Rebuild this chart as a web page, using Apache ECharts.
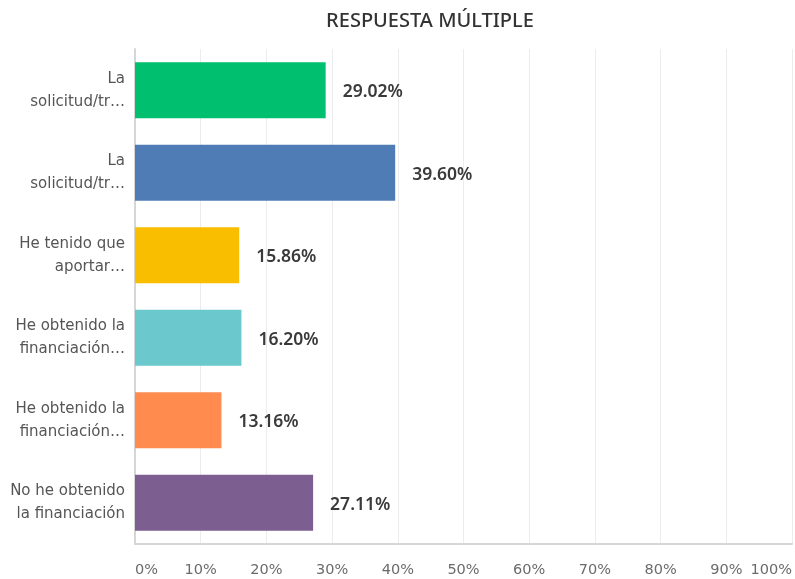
<!DOCTYPE html>
<html>
<head>
<meta charset="utf-8">
<script src="https://cdn.jsdelivr.net/npm/echarts@6/dist/echarts.min.js"></script>
<style>
  html, body { margin: 0; padding: 0; background: #fff; }
  #chart { width: 795px; height: 579px; }
</style>
</head>
<body>
<div id="chart"></div>
<script>
// Survey answers (multiple choice), top to bottom
const categories = [
  "La\nsolicitud/tr…",
  "La\nsolicitud/tr…",
  "He tenido que\naportar…",
  "He obtenido la\nfinanciación…",
  "He obtenido la\nfinanciación…",
  "No he obtenido\nla financiación"
];
const values = [29.02, 39.60, 15.86, 16.20, 13.16, 27.11];
const barColors = ["#00bf6f", "#507cb6", "#f9be00", "#6bc8cd", "#ff8b4f", "#7d5e90"];
const xTicks = [0, 10, 20, 30, 40, 50, 60, 70, 80, 90, 100];

const wideFont = "'DejaVu Sans', 'Noto Sans', sans-serif";
const headFont = "'Noto Sans', 'Open Sans', sans-serif";
const chart = echarts.init(document.getElementById('chart'));

chart.setOption({
  animation: false,
  backgroundColor: '#ffffff',
  title: {
    text: 'RESPUESTA MÚLTIPLE',
    left: 425,
    textAlign: 'center',
    top: 6,
    textStyle: { fontFamily: headFont, fontSize: 20, fontWeight: 500, color: '#333333' }
  },
  grid: { left: 135, right: 3, top: 49, bottom: 35, containLabel: false },
  xAxis: {
    type: 'value',
    min: xTicks[0],
    max: xTicks[xTicks.length - 1],
    interval: 10,
    axisLine: { show: true, lineStyle: { color: '#d6d6d6', width: 2 } },
    axisTick: { show: false },
    splitLine: { show: true, lineStyle: { color: '#ececec', width: 1 } },
    axisLabel: {
      formatter: v => v + '%',
      color: '#6b6b6b',
      fontFamily: wideFont,
      fontSize: 14.5,
      margin: 19,
      alignMinLabel: 'left',
      alignMaxLabel: 'right'
    }
  },
  yAxis: {
    type: 'category',
    inverse: true,
    data: categories,
    axisLine: { show: true, lineStyle: { color: '#d6d6d6', width: 2 } },
    axisTick: { show: false },
    axisLabel: {
      color: '#555555',
      fontFamily: wideFont,
      fontSize: 15,
      lineHeight: 23,
      margin: 10,
      align: 'right'
    }
  },
  series: [{
    type: 'bar',
    barWidth: '68%',
    data: values.map((v, i) => ({ value: v, itemStyle: { color: barColors[i] } })),
    label: {
      show: true,
      position: 'right',
      distance: 17,
      offset: [0, 2],
      formatter: p => p.value.toFixed(2) + '%',
      color: '#3a3a3a',
      fontFamily: headFont,
      fontSize: 17.5,
      fontWeight: 600
    }
  }]
});
</script>
</body>
</html>
